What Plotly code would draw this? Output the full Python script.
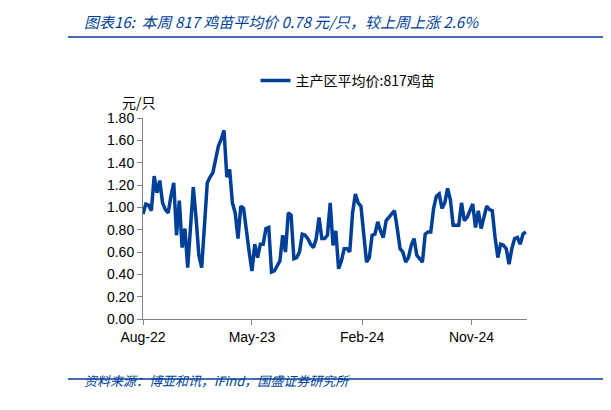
import plotly.graph_objects as go
import pandas as pd

values = [0.94,1.03,1.02,0.97,1.28,1.13,1.24,1.04,0.98,0.95,1.10,1.22,0.75,1.06,0.64,0.81,0.46,0.81,1.18,0.90,
0.57,0.46,0.84,1.22,1.27,1.31,1.43,1.55,1.61,1.69,1.27,1.34,1.04,0.95,0.72,1.01,0.99,0.78,0.60,0.43,
0.67,0.55,0.67,0.67,0.81,0.82,0.42,0.43,0.48,0.52,0.75,0.60,0.95,0.93,0.54,0.55,0.60,0.76,0.75,0.72,
0.67,0.64,0.72,0.91,0.72,0.72,0.75,1.04,0.66,0.79,0.45,0.52,0.63,0.63,0.60,0.95,1.12,1.04,1.01,0.72,
0.51,0.55,0.75,0.76,0.87,0.79,0.73,0.88,0.91,0.93,0.97,0.81,0.63,0.60,0.51,0.55,0.66,0.72,0.57,0.54,
0.51,0.76,0.78,0.78,0.99,1.10,1.12,0.99,1.04,1.17,1.07,0.84,0.84,0.84,1.04,0.88,0.91,0.98,1.03,0.82,
0.97,0.81,0.90,1.01,0.98,0.97,0.73,0.55,0.67,0.66,0.63,0.49,0.63,0.72,0.73,0.67,0.76,0.78]
dates = pd.date_range("2022-08-01", periods=len(values), freq="7D")
tick_dates = ["2022-08-01", "2023-05-01", "2024-02-01", "2024-11-01"]
tick_labels = ["Aug-22", "May-23", "Feb-24", "Nov-24"]
y_ticks = [i * 0.2 for i in range(10)]

blue = "#003f98"
W, H = 611, 410
L, R, T, B = 135, 92, 110, 99
pw, ph = W - L - R, H - T - B
def px(x): return (x - L) / pw
def py(y): return (H - B - y) / ph

fig = go.Figure(go.Scatter(x=dates, y=values, mode="lines", line=dict(color=blue, width=3.5),
                           name="主产区平均价:817鸡苗"))
fig.update_layout(
    width=W, height=H, margin=dict(l=L, r=R, t=T, b=B),
    paper_bgcolor="white", plot_bgcolor="white",
    font=dict(family="Noto Sans CJK SC", size=14, color="black"),
    showlegend=True,
    legend=dict(orientation="h", x=px(340), xanchor="center", y=py(73), yanchor="middle",
                font=dict(size=14), bgcolor="rgba(0,0,0,0)"),
    xaxis=dict(range=[dates[0], dates[-1] + pd.Timedelta(days=3)], tickvals=tick_dates, ticktext=tick_labels,
               showgrid=False, showline=True, linecolor="#808080", ticks="outside", ticklen=5,
               tickcolor="#808080", tickfont=dict(family="Arial", size=14)),
    yaxis=dict(range=[0, 1.8], tickvals=y_ticks, tickformat=".2f", showgrid=False, showline=True,
               linecolor="#808080", ticks="outside", ticklen=5, tickcolor="#808080",
               tickfont=dict(family="Arial", size=14)),
    annotations=[
        dict(text="<i>图表16:  本周 817 鸡苗平均价 0.78 元/只，较上周上涨 2.6%</i>", x=px(74), y=py(13),
             xref="paper", yref="paper", xanchor="left", yanchor="middle", showarrow=False,
             font=dict(size=15, color=blue)),
        dict(text="元/只", x=px(112), y=py(82), xref="paper", yref="paper", showarrow=False),
        dict(text="<i>资料来源：博亚和讯，iFind，国盛证券研究所</i>", x=px(74), y=py(384), xref="paper",
             yref="paper", xanchor="left", showarrow=False, font=dict(size=13, color=blue)),
    ],
)
fig.add_shape(type="line", xref="paper", yref="paper", x0=px(60), x1=px(611), y0=py(29), y1=py(29),
              line=dict(color=blue, width=1.5))
fig.add_shape(type="line", xref="paper", yref="paper", x0=px(60), x1=px(611), y0=py(371), y1=py(371),
              line=dict(color=blue, width=1.5))
fig.write_html("out.html")
